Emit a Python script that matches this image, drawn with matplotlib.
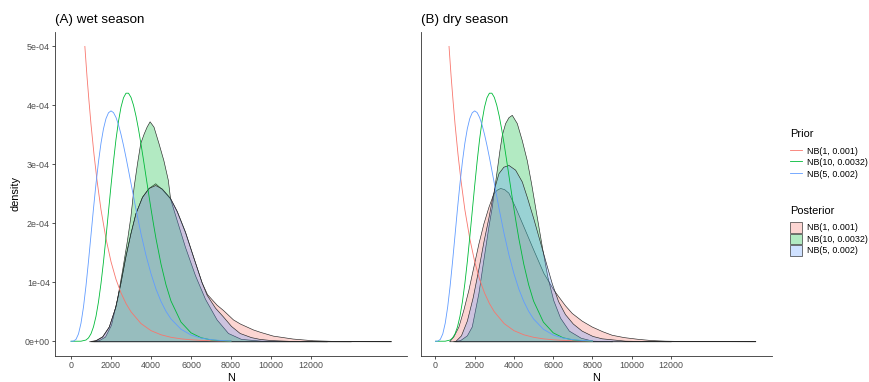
import matplotlib
matplotlib.use("Agg")
import matplotlib.pyplot as plt
from matplotlib.lines import Line2D
from matplotlib.patches import Patch
from matplotlib.colors import to_rgba

plt.rcParams['font.family'] = ['Liberation Sans', 'DejaVu Sans']

# ---------------- data ----------------
series_labels = ['NB(1, 0.001)', 'NB(10, 0.0032)', 'NB(5, 0.002)']
series_colors = ['#F8766D', '#00BA38', '#619CFF']
density_unit = 1e-4

x_ticks = [0, 2000, 4000, 6000, 8000, 10000, 12000]
y_ticks = [0, 1e-4, 2e-4, 3e-4, 4e-4, 5e-4]
y_tick_labels = ['0e+00', '1e-04', '2e-04', '3e-04', '4e-04', '5e-04']

# Prior curves (same in both panels), density in units of 1e-4
prior_red_N = [693, 800, 900, 1000, 1150, 1300, 1500, 1750, 2000, 2250, 2500, 2750,
               3000, 3500, 4000, 4500, 5000, 5500, 6000, 6500, 7000, 7500, 8000]
prior_red_d = [5.00, 4.49, 4.07, 3.68, 3.17, 2.73, 2.23, 1.74, 1.35, 1.05, 0.82, 0.64,
               0.50, 0.30, 0.18, 0.11, 0.067, 0.041, 0.025, 0.015, 0.009, 0.0055, 0.003]
prior_green_N = [0, 500, 750, 875, 1000, 1125, 1250, 1375, 1500, 1625, 1750, 1875, 2000,
                 2125, 2250, 2375, 2500, 2625, 2750, 2875, 3000, 3125, 3250, 3375, 3500,
                 3625, 3750, 3875, 4000, 4125, 4250, 4500, 4750, 5000, 5500, 6000, 6500,
                 7000, 7500, 8000]
prior_green_d = [0, 0.001, 0.021, 0.057, 0.127, 0.245, 0.423, 0.670, 0.981, 1.351, 1.766,
                 2.203, 2.638, 3.052, 3.425, 3.732, 3.970, 4.129, 4.207, 4.207, 4.136,
                 4.003, 3.819, 3.596, 3.343, 3.074, 2.795, 2.517, 2.245, 1.986, 1.740,
                 1.309, 0.957, 0.682, 0.325, 0.143, 0.060, 0.023, 0.009, 0.003]
prior_blue_N = [0, 125, 250, 375, 500, 625, 750, 875, 1000, 1125, 1250, 1375, 1500, 1625,
                1750, 1875, 2000, 2125, 2250, 2375, 2500, 2625, 2750, 2875, 3000, 3250,
                3500, 3750, 4000, 4250, 4500, 4750, 5000, 5500, 6000, 6500, 7000, 7500, 8000]
prior_blue_d = [0, 0.003, 0.032, 0.125, 0.307, 0.583, 0.942, 1.358, 1.804, 2.252, 2.672,
                3.046, 3.360, 3.605, 3.777, 3.875, 3.907, 3.878, 3.796, 3.670, 3.509,
                3.322, 3.117, 2.899, 2.677, 2.236, 1.823, 1.458, 1.146, 0.885, 0.675,
                0.508, 0.378, 0.204, 0.106, 0.054, 0.027, 0.013, 0.006]

# Posterior densities, panel A (wet season)
wet_red_N = [900, 1230, 1560, 1890, 2220, 2470, 2720, 2970, 3220, 3550, 3880, 4210, 4540,
             4955, 5290, 5700, 6110, 6530, 6800, 7280, 7600, 8100, 8450, 9100, 9450, 10090,
             11080, 12080, 13240, 14500, 16000]
wet_red_d = [0, 0.02, 0.085, 0.25, 0.59, 0.99, 1.44, 1.83, 2.17, 2.45, 2.60, 2.68, 2.58,
             2.42, 2.20, 1.85, 1.43, 1.0, 0.80, 0.62, 0.53, 0.37, 0.30, 0.20, 0.16, 0.096,
             0.046, 0.017, 0.005, 0.001, 0]
wet_green_N = [1100, 1400, 1700, 2000, 2300, 2550, 2800, 2970, 3130, 3300, 3460, 3630, 3780,
               3930, 4125, 4375, 4620, 4840, 4955, 5290, 5700, 6200, 6700, 7280, 7850, 8500,
               9500, 11000, 12800]
wet_green_d = [0, 0.02, 0.08, 0.28, 0.72, 1.2, 1.72, 2.12, 2.62, 3.02, 3.36, 3.52, 3.64,
               3.73, 3.64, 3.36, 3.07, 2.74, 2.42, 2.05, 1.60, 1.12, 0.72, 0.37, 0.14, 0.04,
               0.01, 0.003, 0]
wet_blue_N = [1000, 1230, 1560, 1890, 2220, 2470, 2720, 2970, 3220, 3550, 3880, 4210, 4540,
              4955, 5290, 5700, 6110, 6530, 6780, 7200, 7600, 8000, 8435, 9000, 9430, 10000,
              11070, 12500, 14000]
wet_blue_d = [0, 0.015, 0.08, 0.25, 0.59, 0.99, 1.44, 1.83, 2.17, 2.45, 2.60, 2.65, 2.59,
              2.43, 2.21, 1.86, 1.43, 1.0, 0.79, 0.57, 0.42, 0.26, 0.14, 0.07, 0.04, 0.02,
              0.005, 0.001, 0]

# Posterior densities, panel B (dry season)
dry_red_N = [700, 916, 1171, 1426, 1680, 1935, 2190, 2444, 2700, 2953, 3120, 3294, 3500,
             3717, 4058, 4481, 4990, 5499, 6000, 6263, 6600, 6945, 7450, 7963, 8500, 8982,
             9600, 10336, 11000, 11695, 13000, 16300]
dry_red_d = [0, 0.085, 0.25, 0.54, 0.875, 1.27, 1.66, 2.0, 2.28, 2.51, 2.57, 2.60, 2.58,
             2.52, 2.28, 1.95, 1.55, 1.16, 0.88, 0.76, 0.61, 0.48, 0.35, 0.25, 0.17, 0.11,
             0.07, 0.04, 0.02, 0.01, 0.003, 0]
dry_green_N = [900, 1260, 1600, 1850, 2190, 2440, 2700, 2870, 3000, 3126, 3260, 3380, 3550,
               3720, 3890, 4145, 4400, 4654, 4873, 5076, 5245, 5450, 5700, 6000, 6350, 6800,
               7400, 8000, 9000]
dry_green_d = [0, 0.02, 0.1, 0.25, 0.82, 1.38, 1.95, 2.28, 2.6, 2.91, 3.24, 3.5, 3.70,
               3.80, 3.84, 3.70, 3.41, 3.07, 2.68, 2.28, 1.95, 1.55, 1.1, 0.7, 0.4, 0.18,
               0.06, 0.01, 0]
dry_blue_N = [1000, 1300, 1600, 1900, 2200, 2450, 2700, 2900, 3040, 3210, 3460, 3720, 4060,
              4400, 4654, 4990, 5330, 5670, 5930, 6250, 6600, 7000, 7450, 8000, 8470, 9660,
              11000, 12000]
dry_blue_d = [0, 0.1, 0.35, 0.75, 1.25, 1.7, 2.1, 2.45, 2.65, 2.85, 2.96, 2.99, 2.91,
              2.71, 2.45, 2.08, 1.68, 1.28, 0.98, 0.68, 0.46, 0.30, 0.18, 0.09, 0.05, 0.01,
              0.002, 0]

priors = [(prior_red_N, prior_red_d), (prior_green_N, prior_green_d), (prior_blue_N, prior_blue_d)]
wet_post = [(wet_red_N, wet_red_d), (wet_green_N, wet_green_d), (wet_blue_N, wet_blue_d)]
dry_post = [(dry_red_N, dry_red_d), (dry_green_N, dry_green_d), (dry_blue_N, dry_blue_d)]

# ---------------- figure ----------------
W, H = 870, 382
fig = plt.figure(figsize=(W / 100, H / 100), dpi=100)
ax_top, ax_bot = 31.7, 356
axA = fig.add_axes([55 / W, 1 - ax_bot / H, (407 - 55) / W, (ax_bot - ax_top) / H])
axB = fig.add_axes([420.7 / W, 1 - ax_bot / H, 351 / W, (ax_bot - ax_top) / H])

fill_alpha = 0.3
axis_col = '#333333'
tick_col = '#4D4D4D'
edge_col = '#262626'


def draw_panel(ax, posts, title, xlim, show_y):
    for (n, d), col in zip(posts, series_colors):
        ax.fill_between(n, [v * density_unit for v in d], 0,
                        facecolor=to_rgba(col, fill_alpha), edgecolor=edge_col,
                        linewidth=0.45, zorder=2)
    for (n, d), col in zip(priors, series_colors):
        ax.plot(n, [v * density_unit for v in d], color=col, lw=0.6, zorder=3)
    ax.set_xlim(*xlim)
    ax.set_ylim(-2.5e-5, 5.25e-4)
    ax.set_xticks(x_ticks)
    ax.set_xticklabels([str(t) for t in x_ticks])
    for s in ['top', 'right']:
        ax.spines[s].set_visible(False)
    for s in ['left', 'bottom']:
        ax.spines[s].set_color(axis_col)
        ax.spines[s].set_linewidth(0.6)
    ax.tick_params(axis='x', length=2.0, width=0.6, color=axis_col, labelsize=6.4,
                   labelcolor=tick_col, pad=1.6)
    if show_y:
        ax.set_yticks(y_ticks)
        ax.set_yticklabels(y_tick_labels)
        ax.tick_params(axis='y', length=2.0, width=0.6, color=axis_col, labelsize=6.4,
                       labelcolor=tick_col, pad=1.6)
        ax.set_ylabel('density', fontsize=7.9, labelpad=3)
    else:
        ax.set_yticks([])
    ax.set_xlabel('N', fontsize=7.9, labelpad=2.2)
    ax.set_title(title, loc='left', fontsize=9.6, pad=6.5)


draw_panel(axA, wet_post, '(A) wet season', (-800, 16800), True)
draw_panel(axB, dry_post, '(B) dry season', (-750, 17130), False)

prior_handles = [Line2D([], [], color=c, lw=0.6) for c in series_colors]
post_handles = [Patch(facecolor=to_rgba(c, fill_alpha), edgecolor=edge_col, linewidth=0.45)
                for c in series_colors]

leg_kw = dict(loc='upper left', frameon=False, fontsize=6.4,
              handlelength=1.3, handleheight=1.5, labelspacing=0.08,
              handletextpad=0.65, borderaxespad=0, borderpad=0)
fig.text(790 / W, 1 - 134 / H, 'Prior', fontsize=7.9, ha='left', va='center')
fig.legend(prior_handles, series_labels, bbox_to_anchor=(790 / W, 1 - 145.5 / H), **leg_kw)
fig.text(790 / W, 1 - 210.7 / H, 'Posterior', fontsize=7.9, ha='left', va='center')
fig.legend(post_handles, series_labels, bbox_to_anchor=(790 / W, 1 - 222 / H), **leg_kw)

fig.savefig('out.png', dpi=100)
